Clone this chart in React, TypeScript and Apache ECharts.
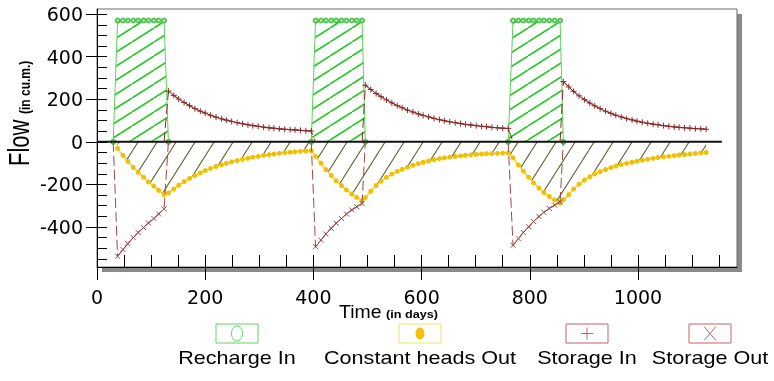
import React, { useEffect, useRef } from 'react';
import * as echarts from 'echarts';

// ---- time steps (days) ----
const preDay = 30;
const pulseDays1 = [38, 48, 57, 67, 76, 86, 95, 105, 114, 124];
const restDays1 = [132, 142, 151, 161, 171, 181, 191, 200, 210, 220, 230, 239, 249, 259, 269, 279, 288, 298, 308, 318, 327, 337, 347, 357, 366, 376, 386, 396];
const pulseDays2 = [404, 414, 423, 433, 442, 452, 461, 471, 480, 490];
const restDays2 = [496, 506, 516, 525, 535, 545, 555, 564, 574, 584, 594, 603, 613, 623, 633, 642, 652, 662, 672, 681, 691, 701, 711, 720, 730, 740, 750, 760];
const pulseDays3 = [769, 779, 788, 798, 807, 817, 826, 836, 846, 856];
const restDays3 = [862, 872, 881, 891, 901, 911, 920, 930, 940, 950, 959, 969, 979, 989, 998, 1008, 1018, 1028, 1037, 1047, 1057, 1067, 1076, 1086, 1096, 1106, 1116, 1126];

// ---- Recharge In (during recharge pulses) ----
const rechargePulse1 = [570, 570, 570, 570, 570, 570, 570, 570, 570, 570];
const rechargePulse2 = [570, 570, 570, 570, 570, 570, 570, 570, 570, 570];
const rechargePulse3 = [570, 570, 570, 570, 570, 570, 570, 570, 570, 570];

// ---- Constant heads Out ----
const chPulse1 = [-31, -64, -92, -120, -143, -166, -188, -208, -228, -248];
const chRest1 = [-240, -222, -204, -187, -172, -158, -146, -135, -125, -116, -108, -101, -94, -88, -82, -77, -72, -68, -64, -60, -57, -54, -51, -49, -47, -45, -43, -42];
const chPulse2 = [-68, -100, -130, -158, -183, -205, -226, -245, -261, -276];
const chRest2 = [-262, -232, -205, -185, -167, -152, -139, -129, -119, -110, -102, -96, -90, -84, -79, -75, -72, -69, -66, -63, -61, -59, -57, -56, -55, -54, -53, -52];
const chPulse3 = [-75, -109, -138, -166, -193, -217, -238, -257, -273, -288];
const chRest3 = [-272, -248, -222, -199, -180, -164, -151, -140, -130, -121, -114, -107, -101, -96, -91, -86, -82, -78, -74, -71, -68, -65, -62, -60, -57, -55, -52, -50];

// ---- Storage Out (during pulses) ----
const soPulse1 = [-537, -506, -478, -450, -426, -403, -381, -360, -339, -315];
const soPulse2 = [-493, -462, -433, -406, -382, -360, -339, -320, -305, -290];
const soPulse3 = [-486, -455, -426, -399, -374, -351, -331, -313, -297, -282];

// ---- Storage In (between pulses) ----
const siRest1 = [238, 218, 201, 185, 170, 156, 144, 135, 125, 116, 108, 102, 96, 90, 85, 80, 76, 73, 69, 66, 64, 61, 59, 57, 56, 54, 52, 51];
const siRest2 = [266, 246, 227, 212, 197, 183, 170, 160, 149, 140, 131, 124, 117, 110, 104, 99, 94, 90, 86, 82, 79, 76, 73, 71, 68, 66, 64, 63];
const siRest3 = [283, 258, 237, 216, 198, 182, 169, 156, 144, 134, 125, 117, 109, 103, 97, 92, 87, 83, 80, 76, 73, 70, 68, 66, 64, 62, 61, 59];

// zero reference line extent
const zeroLine = [[0, 0], [1155, 0]];

// ---- axis ticks ----
const xTickLabels = [0, 200, 400, 600, 800, 1000];
const yTickLabels = [-400, -200, 0, 200, 400, 600];
const xMinorStep = 50;
const yMinorStep = 50;

const legendItems = ['Recharge In', 'Constant heads Out', 'Storage In', 'Storage Out'];

function makeHatch(w: number, h: number, color: string, lw: number) {
  const c = document.createElement('canvas');
  c.width = w;
  c.height = h;
  const ctx = c.getContext('2d')!;
  ctx.strokeStyle = color;
  ctx.lineWidth = lw;
  ctx.beginPath();
  for (const dx of [-w, 0, w]) {
    ctx.moveTo(dx, h);
    ctx.lineTo(dx + w, 0);
  }
  ctx.stroke();
  return c;
}

export default function App() {
  const ref = useRef<HTMLDivElement>(null);

  useEffect(() => {
    const chart = echarts.init(ref.current!, null, { renderer: 'svg' });

    const zerosOf = (a: number[]) => a.map(() => 0);
    const phases = [
      { d: [preDay], r: [0], ch: [null], si: [0], so: [0] },
      { d: pulseDays1, r: rechargePulse1, ch: chPulse1, si: zerosOf(pulseDays1), so: soPulse1 },
      { d: restDays1, r: zerosOf(restDays1), ch: chRest1, si: siRest1, so: zerosOf(restDays1) },
      { d: pulseDays2, r: rechargePulse2, ch: chPulse2, si: zerosOf(pulseDays2), so: soPulse2 },
      { d: restDays2, r: zerosOf(restDays2), ch: chRest2, si: siRest2, so: zerosOf(restDays2) },
      { d: pulseDays3, r: rechargePulse3, ch: chPulse3, si: zerosOf(pulseDays3), so: soPulse3 },
      { d: restDays3, r: zerosOf(restDays3), ch: chRest3, si: siRest3, so: zerosOf(restDays3) },
    ];
    const days: number[] = [];
    const rech: (number | null)[] = [];
    const ch: (number | null)[] = [];
    const si: (number | null)[] = [];
    const so: (number | null)[] = [];
    phases.forEach((p) => {
      days.push(...p.d);
      rech.push(...p.r);
      ch.push(...(p.ch as any));
      si.push(...p.si);
      so.push(...p.so);
    });
    const n = days.length;
    const nz = (v: number | null | undefined) => v !== null && v !== undefined && v !== 0;
    const build = (vals: (number | null)[], keepEdges: boolean) =>
      days.map((d, i) => {
        const v = vals[i];
        if (v === null) return [d, '-'];
        if (v !== 0) return [d, v];
        if (keepEdges && ((i > 0 && nz(vals[i - 1])) || (i < n - 1 && nz(vals[i + 1])))) return [d, 0];
        return [d, '-'];
      });

    const range = (a: number, b: number, s: number) => {
      const out: number[] = [];
      for (let v = a; v <= b; v += s) out.push(v);
      return out;
    };
    const xInside = range(0, 1150, xMinorStep);
    const yInside = range(-550, 600, yMinorStep);

    const greenHatch = makeHatch(22, 14, '#22c822', 1.6);
    const oliveHatch = makeHatch(19, 30, '#5e5e30', 1.1);

    const font = 'DejaVu Sans';
    const plus = 'path://M4,0 L4,8 M0,4 L8,4';
    const cross = 'path://M0,0 L8,8 M8,0 L0,8';

    const siColor = '#8a2a2a';
    const soColor = '#a04848';
    const green = '#4fc84f';

    const boxes = [
      { cx: 237, stroke: '#5fd35f' },
      { cx: 420, stroke: '#ece36a' },
      { cx: 587, stroke: '#c46464' },
      { cx: 710, stroke: '#c46464' },
    ];
    const boxTop = 324;
    const boxW = 42;
    const boxH = 19;
    const by = boxTop + boxH / 2;

    const graphic: any[] = [
      { type: 'rect', z: -1, silent: true, shape: { x: 102, y: 14, width: 640, height: 258 }, style: { fill: '#8a8a8a' } },
      { type: 'text', x: 339, y: 312, scaleX: 1.08, silent: true, style: { text: 'Time', fontSize: 18, fontFamily: 'Liberation Sans', fill: '#000', align: 'left', verticalAlign: 'middle' } },
      { type: 'text', x: 386, y: 314, scaleX: 1.15, silent: true, style: { text: '(in days)', fontSize: 11, fontWeight: 'bold', fontFamily: 'Liberation Sans', fill: '#000', align: 'left', verticalAlign: 'middle' } },
      { type: 'text', x: 19, y: 166, rotation: Math.PI / 2, scaleY: 1.3, silent: true, style: { text: 'Flow', fontSize: 22, fontFamily: 'Liberation Sans', fill: '#000', align: 'left', verticalAlign: 'middle' } },
      { type: 'text', x: 25, y: 114, rotation: Math.PI / 2, scaleY: 1.2, silent: true, style: { text: '(in cu.m.)', fontSize: 12, fontWeight: 'bold', fontFamily: 'Liberation Sans', fill: '#000', align: 'left', verticalAlign: 'middle' } },
    ];
    boxes.forEach((b, i) => {
      graphic.push({ type: 'rect', silent: true, shape: { x: b.cx - boxW / 2, y: boxTop, width: boxW, height: boxH }, style: { fill: '#fff', stroke: b.stroke, lineWidth: 1 } });
      graphic.push({ type: 'text', x: b.cx, y: 358, scaleX: 1.2, silent: true, style: { text: legendItems[i], fontSize: 18, fontFamily: 'Liberation Sans', fill: '#000', align: 'center', verticalAlign: 'middle' } });
    });
    graphic.push({ type: 'ellipse', silent: true, shape: { cx: boxes[0].cx, cy: by, rx: 5.5, ry: 7.5 }, style: { fill: 'none', stroke: '#5fd35f', lineWidth: 1 } });
    graphic.push({ type: 'ellipse', silent: true, shape: { cx: boxes[1].cx, cy: by, rx: 4.5, ry: 6 }, style: { fill: '#f4c20d' } });
    graphic.push({ type: 'line', silent: true, shape: { x1: boxes[2].cx - 6, y1: by, x2: boxes[2].cx + 6, y2: by }, style: { stroke: '#c46464', lineWidth: 1 } });
    graphic.push({ type: 'line', silent: true, shape: { x1: boxes[2].cx, y1: by - 6, x2: boxes[2].cx, y2: by + 6 }, style: { stroke: '#c46464', lineWidth: 1 } });
    graphic.push({ type: 'line', silent: true, shape: { x1: boxes[3].cx - 6, y1: by - 7, x2: boxes[3].cx + 6, y2: by + 7 }, style: { stroke: '#c46464', lineWidth: 1 } });
    graphic.push({ type: 'line', silent: true, shape: { x1: boxes[3].cx + 6, y1: by - 7, x2: boxes[3].cx - 6, y2: by + 7 }, style: { stroke: '#c46464', lineWidth: 1 } });

    const xBase = { type: 'value', position: 'bottom', min: 0, max: 1183, splitLine: { show: false } };
    const yBase = { type: 'value', position: 'left', min: -588, max: 624, splitLine: { show: false } };

    const option: any = {
      animation: false,
      grid: { left: 97, top: 9, width: 640, height: 258, show: true, backgroundColor: '#ffffff', borderColor: '#6a6a6a', borderWidth: 1 },
      xAxis: [
        {
          ...xBase,
          axisLine: { show: true, onZero: false, lineStyle: { color: '#000', width: 1 } },
          axisTick: { show: true, inside: true, length: 12, customValues: xInside, lineStyle: { color: '#000' } },
          axisLabel: { show: false },
        },
        {
          ...xBase,
          axisLine: { show: false, onZero: false },
          axisTick: { show: true, inside: false, length: 13, customValues: xTickLabels, lineStyle: { color: '#000' } },
          axisLabel: { show: true, customValues: xTickLabels, margin: 20, fontSize: 19, fontFamily: font, color: '#000', formatter: (v: number) => String(v) },
        },
      ],
      yAxis: [
        {
          ...yBase,
          axisLine: { show: true, onZero: false, lineStyle: { color: '#000', width: 1 } },
          axisTick: { show: true, inside: true, length: 10, customValues: yInside, lineStyle: { color: '#000' } },
          axisLabel: { show: false },
        },
        {
          ...yBase,
          axisLine: { show: false, onZero: false },
          axisTick: { show: true, inside: false, length: 11, customValues: yTickLabels, lineStyle: { color: '#000' } },
          axisLabel: { show: true, customValues: yTickLabels, margin: 14, fontSize: 19, fontFamily: font, color: '#000', formatter: (v: number) => String(v) },
        },
      ],
      graphic,
      series: [
        {
          name: 'Constant heads Out',
          type: 'line',
          z: 2,
          silent: true,
          data: build(ch, false),
          symbol: 'circle',
          symbolSize: 5,
          showAllSymbol: true,
          itemStyle: { color: '#efc100' },
          lineStyle: { color: '#f2cf3a', width: 1.5 },
          areaStyle: { color: { image: oliveHatch, repeat: 'repeat' }, opacity: 1 },
        },
        {
          name: 'Recharge In',
          type: 'line',
          z: 2,
          silent: true,
          data: build(rech, true),
          symbol: 'emptyCircle',
          symbolSize: 4,
          showAllSymbol: true,
          itemStyle: { color: green, borderColor: green, borderWidth: 1 },
          lineStyle: { color: '#5ed25e', width: 1 },
          areaStyle: { color: { image: greenHatch, repeat: 'repeat' }, opacity: 1 },
        },
        {
          name: 'zero',
          type: 'line',
          z: 3,
          silent: true,
          data: zeroLine,
          symbol: 'none',
          lineStyle: { color: '#111', width: 2 },
        },
        {
          name: 'Storage In transitions',
          type: 'line',
          z: 4,
          silent: true,
          data: build(si, true),
          symbol: 'none',
          lineStyle: { color: siColor, width: 1, type: [10, 4] },
        },
        {
          name: 'Storage In',
          type: 'line',
          z: 5,
          silent: true,
          data: build(si, false),
          symbol: plus,
          symbolSize: 6,
          showAllSymbol: true,
          itemStyle: { color: siColor, borderColor: siColor, borderWidth: 1 },
          lineStyle: { color: siColor, width: 1 },
        },
        {
          name: 'Storage Out transitions',
          type: 'line',
          z: 4,
          silent: true,
          data: build(so, true),
          symbol: 'none',
          lineStyle: { color: soColor, width: 1, type: [10, 4] },
        },
        {
          name: 'Storage Out',
          type: 'line',
          z: 5,
          silent: true,
          data: build(so, false),
          symbol: cross,
          symbolSize: 5,
          showAllSymbol: true,
          itemStyle: { color: soColor, borderColor: soColor, borderWidth: 1 },
          lineStyle: { color: soColor, width: 1 },
        },
      ],
    };
    chart.setOption(option);
    return () => chart.dispose();
  }, []);

  return <div ref={ref} style={{ position: 'fixed', left: 0, top: 0, width: 774, height: 381 }} />;
}
